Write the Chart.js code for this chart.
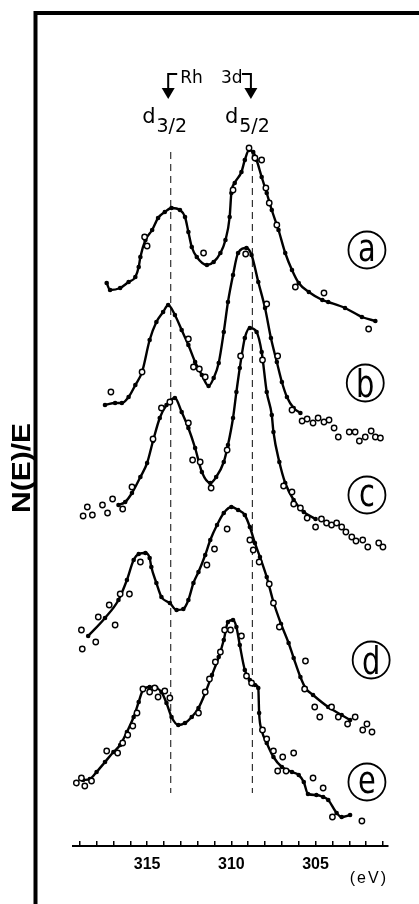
<!DOCTYPE html>
<html>
<head>
<meta charset="utf-8">
<script src="https://cdn.jsdelivr.net/npm/chart.js@4"></script>
<style>
  html, body { margin: 0; padding: 0; background: #fff; }
  #wrap { width: 419px; height: 904px; }
</style>
</head>
<body>
<div id="wrap"><canvas id="chart" width="419" height="904"></canvas></div>
<script>
// binding energy (eV) , N(E)/E (arbitrary, curves stacked)
const curveA = [[317.4,56.3],[317.2,55.6],[316.6,55.8],[316.1,56.4],[315.7,56.9],[315.5,57.9],[315.4,58.9],[315.1,60.6],[314.7,61.6],[314.35,62.8],[313.95,63.4],[313.55,63.8],[313.05,63.6],[312.75,62.9],[312.55,61.4],[312.35,59.9],[312.05,58.9],[311.45,58.1],[311.05,58.4],[310.65,59.3],[310.35,60.6],[310.1,62.9],[310.0,65.3],[309.8,66.3],[309.4,67.4],[309.2,68.6],[308.95,69.6],[308.7,69.4],[308.5,68.6],[308.2,66.9],[307.9,65.3],[307.6,63.6],[307.2,61.6],[306.8,59.3],[306.4,57.6],[306.0,56.3],[305.4,55.4],[304.6,54.6],[304.25,54.4],[303.25,53.8],[302.25,52.9],[301.45,52.5]];
const circlesA = [[315.15,60.9],[315.0,60.0],[311.65,59.3],[309.9,65.6],[308.95,69.8],[308.6,68.8],[308.2,68.6],[307.95,65.8],[307.75,64.3],[307.3,62.1],[306.2,55.9],[304.5,55.3],[301.85,51.7]];

const curveB = [[317.5,44.1],[316.9,44.3],[316.5,44.3],[316.1,44.9],[315.7,46.1],[315.3,47.4],[314.85,50.6],[314.45,52.4],[314.05,53.4],[313.75,54.1],[313.35,53.1],[312.95,51.6],[312.55,50.1],[312.15,48.4],[311.75,47.1],[311.35,46.0],[311.05,46.8],[310.75,48.3],[310.45,51.4],[310.2,54.4],[309.9,57.1],[309.6,59.3],[309.1,59.8],[308.8,59.1],[308.4,56.4],[308.0,53.8],[307.65,50.8],[307.3,48.4],[307.0,46.4],[306.7,44.9],[306.3,43.8],[305.9,43.3]];
const circlesB = [[317.15,45.4],[315.3,47.4],[312.55,50.7],[312.25,47.9],[311.9,47.7],[311.55,46.9],[309.15,59.2],[307.9,54.2],[307.25,49.0],[306.4,43.6],[305.8,42.5],[305.5,42.7],[305.15,42.3],[304.85,42.8],[304.5,42.4],[304.2,42.6],[303.9,41.8],[303.65,40.9],[303.0,41.4],[302.65,41.4],[302.4,40.5],[302.05,40.9],[301.7,41.5],[301.45,40.9],[301.15,40.8]];

const curveC = [[316.7,34.1],[316.3,34.4],[315.9,35.3],[315.4,36.9],[315.0,38.3],[314.65,40.5],[314.25,42.8],[313.85,44.1],[313.35,44.8],[312.95,43.4],[312.55,41.8],[312.15,39.8],[311.75,37.4],[311.25,36.3],[310.9,36.9],[310.45,38.4],[310.2,40.1],[309.9,42.8],[309.7,45.4],[309.5,47.8],[309.2,50.8],[308.9,51.8],[308.5,51.4],[308.2,49.4],[307.9,45.4],[307.6,43.1],[307.5,41.4],[307.15,38.4],[306.8,36.3],[306.3,34.6],[305.7,33.4],[305.0,32.7]];
const circlesC = [[318.8,33.0],[318.55,33.9],[318.25,33.1],[317.65,34.1],[317.35,33.3],[317.05,34.7],[316.45,33.7],[315.9,35.9],[314.65,40.7],[314.15,43.8],[313.65,44.4],[312.55,42.3],[312.3,38.6],[311.85,38.4],[311.2,35.8],[310.25,39.6],[309.45,49.0],[308.15,48.6],[306.9,36.0],[306.4,35.4],[306.3,34.2],[305.9,33.8],[305.5,32.8],[305.0,31.9],[304.65,32.7],[304.35,32.3],[304.05,32.1],[303.75,32.3],[303.45,31.9],[303.2,31.4],[302.85,30.9],[302.6,30.5],[302.2,30.6],[301.9,29.9],[301.25,30.3],[301.0,29.9]];

const curveD = [[318.5,21.0],[317.5,22.8],[316.7,24.6],[316.2,26.6],[315.8,28.6],[315.5,29.2],[315.1,29.3],[314.85,28.8],[314.75,27.9],[314.45,26.3],[314.15,24.9],[313.65,24.3],[313.25,23.6],[312.85,23.7],[312.55,24.6],[312.25,26.3],[311.95,27.4],[311.55,29.1],[311.25,30.6],[310.85,32.1],[310.45,33.3],[310.0,33.9],[309.6,33.6],[309.2,33.1],[308.9,31.9],[308.6,30.3],[308.3,28.9],[307.9,26.9],[307.5,24.4],[307.05,22.2],[306.6,20.3],[306.3,18.8],[305.9,16.9],[305.6,15.8],[305.15,15.1],[304.25,13.9],[303.45,13.1],[302.95,12.6]];
const circlesD = [[318.9,21.6],[318.85,19.7],[318.05,20.4],[317.9,22.9],[317.25,24.1],[316.9,22.1],[316.6,25.2],[316.05,25.2],[315.4,28.4],[311.45,28.1],[311.0,29.7],[310.25,31.7],[308.9,30.6],[308.7,29.6],[308.35,28.4],[307.75,26.2],[307.5,24.3],[307.15,21.9],[305.6,18.5],[305.65,15.7],[305.05,13.9],[304.75,12.9],[304.05,13.9],[303.65,12.9],[303.1,12.2],[302.65,12.9],[302.2,11.6],[301.95,12.2],[301.65,11.4]];

const curveE = [[318.8,6.6],[318.4,6.7],[318.0,7.4],[317.5,8.4],[317.0,9.4],[316.6,10.1],[316.2,11.4],[315.8,12.9],[315.5,14.4],[315.25,15.6],[314.85,15.9],[314.45,15.8],[314.15,15.4],[313.85,14.3],[313.55,12.9],[313.15,12.1],[312.75,12.3],[312.35,12.9],[311.95,13.8],[311.55,15.3],[311.15,17.1],[310.75,18.9],[310.45,20.6],[310.2,22.4],[309.9,22.6],[309.7,21.9],[309.5,20.1],[309.2,17.6],[308.9,16.6],[308.6,16.1],[308.4,15.8],[308.35,13.3],[308.2,11.6],[307.9,10.3],[307.5,8.9],[307.0,7.9],[306.4,7.4],[306.0,7.1],[305.7,6.4],[305.45,5.2],[304.95,5.1],[304.55,4.9],[304.25,4.6],[303.75,3.3],[303.45,2.9],[302.95,3.1]];
const circlesE = [[319.2,6.3],[318.9,6.8],[318.7,6.0],[318.3,6.5],[317.4,9.5],[316.75,9.3],[316.45,10.3],[316.15,11.1],[315.85,12.0],[315.6,13.3],[315.25,15.7],[314.85,15.4],[314.55,15.8],[314.35,14.9],[313.95,15.5],[313.65,14.8],[311.95,13.3],[311.55,15.4],[311.3,16.7],[310.95,18.4],[310.65,19.4],[310.4,21.6],[310.05,21.6],[309.4,21.0],[309.1,17.0],[308.8,16.3],[308.15,11.6],[307.9,10.7],[307.5,9.5],[307.25,7.5],[306.95,8.9],[306.75,7.5],[306.3,9.3],[305.15,6.8],[304.55,5.8],[304.0,2.9],[302.25,2.5]];

// Rh 3d peak positions (dashed guides) and curve tags
const peakLines = [313.6, 308.75];
const peakSpan = [69.4, 5.3];
const tags = ['a', 'b', 'c', 'd', 'e'];
const tagX = [301.95, 302.05, 301.95, 301.7, 301.95];
const tagY = [59.6, 46.3, 35.1, 18.6, 6.4];

const toXY = (arr) => arr.map(([x, y]) => ({ x, y }));

const curveStyle = (arr) => ({
    data: toXY(arr),
    borderColor: '#000',
    borderWidth: 2.4,
    pointRadius: 2.3,
    pointBackgroundColor: '#000',
    pointBorderWidth: 0,
    cubicInterpolationMode: 'monotone',
    fill: false,
    order: 1
});

const circleStyle = (arr) => ({
    data: toXY(arr),
    showLine: false,
    pointRadius: 2.7,
    pointBackgroundColor: '#fff',
    pointBorderColor: '#000',
    pointBorderWidth: 1.4,
    order: 0
});

const dashStyle = (ev) => ({
    data: peakSpan.map(y => ({ x: ev, y })),
    borderColor: '#333',
    borderWidth: 1.2,
    borderDash: [7, 5],
    pointRadius: 0,
    order: 2
});

const decorations = {
    id: 'decorations',
    afterDraw(chart) {
        const { ctx, scales: { x, y } } = chart;
        ctx.save();

        // frame
        ctx.strokeStyle = '#000';
        ctx.lineWidth = 4;
        ctx.beginPath();
        ctx.moveTo(35.5, 904);
        ctx.lineTo(35.5, 13);
        ctx.lineTo(419, 13);
        ctx.stroke();

        // y label
        ctx.save();
        ctx.translate(23, 468);
        ctx.rotate(-Math.PI / 2);
        ctx.font = 'bold 25px "Liberation Sans"';
        const w = ctx.measureText('N(E)/E').width;
        ctx.scale(90 / w, 1);
        ctx.fillStyle = '#000';
        ctx.textAlign = 'center';
        ctx.textBaseline = 'middle';
        ctx.fillText('N(E)/E', 0, 0);
        ctx.restore();

        // x unit
        ctx.fillStyle = '#000';
        ctx.font = '16px "Liberation Sans"';
        ctx.letterSpacing = '2px';
        ctx.textAlign = 'right';
        ctx.textBaseline = 'middle';
        ctx.fillText('(eV)', x.right, 879);
        ctx.letterSpacing = '0px';

        // Rh 3d bracket with arrows
        const xl = x.getPixelForValue(peakLines[0]) - 2.5;
        const xr = x.getPixelForValue(peakLines[1]) - 1.5;
        const yTop = y.getPixelForValue(77.2);
        const yBase = y.getPixelForValue(75.8);
        const yTip = y.getPixelForValue(74.7);
        ctx.lineWidth = 2;
        ctx.beginPath();
        ctx.moveTo(xl + 9, yTop); ctx.lineTo(xl, yTop); ctx.lineTo(xl, yBase + 2);
        ctx.moveTo(xr - 9, yTop); ctx.lineTo(xr, yTop); ctx.lineTo(xr, yBase + 2);
        ctx.stroke();
        [xl, xr].forEach(px => {
            ctx.beginPath();
            ctx.moveTo(px - 6.5, yBase);
            ctx.lineTo(px + 6.5, yBase);
            ctx.lineTo(px, yTip);
            ctx.closePath();
            ctx.fill();
        });

        ctx.textAlign = 'left';
        ctx.textBaseline = 'alphabetic';
        ctx.font = '17px "DejaVu Sans"';
        const yRh = y.getPixelForValue(76.3);
        ctx.fillText('Rh', xl + 12, yRh);
        ctx.fillText('3d', xr - 30, yRh);

        // d3/2, d5/2
        const yD = y.getPixelForValue(72.3);
        const ySub = y.getPixelForValue(71.4);
        [[xl - 26, '3/2'], [xr - 26, '5/2']].forEach(([px, sub]) => {
            ctx.font = '21px "DejaVu Sans"';
            ctx.fillText('d', px, yD);
            const dw = ctx.measureText('d').width;
            ctx.font = '19px "DejaVu Sans"';
            ctx.fillText(sub, px + dw + 1, ySub);
        });

        // circled curve tags
        tags.forEach((t, i) => {
            const cx = x.getPixelForValue(tagX[i]);
            const cy = y.getPixelForValue(tagY[i]);
            ctx.lineWidth = 1.8;
            ctx.beginPath();
            ctx.arc(cx, cy, 18.5, 0, Math.PI * 2);
            ctx.stroke();
            ctx.save();
            ctx.translate(cx, cy);
            ctx.scale(0.78, 1);
            ctx.font = '37px "DejaVu Sans"';
            const m = ctx.measureText(t);
            const h = m.actualBoundingBoxAscent + m.actualBoundingBoxDescent;
            ctx.textAlign = 'center';
            ctx.fillText(t, 0, m.actualBoundingBoxAscent - h / 2);
            ctx.restore();
        });

        ctx.restore();
    }
};

new Chart(document.getElementById('chart').getContext('2d'), {
    type: 'line',
    data: {
        datasets: [
            circleStyle(circlesA), curveStyle(curveA),
            circleStyle(circlesB), curveStyle(curveB),
            circleStyle(circlesC), curveStyle(curveC),
            circleStyle(circlesD), curveStyle(curveD),
            circleStyle(circlesE), curveStyle(curveE),
            dashStyle(peakLines[0]), dashStyle(peakLines[1])
        ]
    },
    options: {
        responsive: false,
        devicePixelRatio: 1,
        animation: false,
        layout: { padding: { top: 46, left: 73, right: 31, bottom: 0 } },
        plugins: { legend: { display: false }, tooltip: { enabled: false } },
        scales: {
            x: {
                type: 'linear',
                reverse: true,
                min: 300.7,
                max: 319.4,
                afterFit: (scale) => { scale.height = 58; },
                border: { display: true, color: '#000', width: 2 },
                grid: { drawOnChartArea: false, drawTicks: true, tickLength: -5, color: '#000', lineWidth: 1.5 },
                ticks: {
                    stepSize: 1,
                    autoSkip: false,
                    includeBounds: false,
                    maxRotation: 0,
                    padding: 14,
                    color: '#000',
                    font: { family: '"Liberation Sans"', size: 16, weight: 'bold' },
                    callback: (v) => (Math.abs(v - Math.round(v)) < 1e-6 && Math.round(v) % 5 === 0) ? String(Math.round(v)) : ''
                }
            },
            y: { display: false, min: 0, max: 80 }
        }
    },
    plugins: [decorations]
});
</script>
</body>
</html>
